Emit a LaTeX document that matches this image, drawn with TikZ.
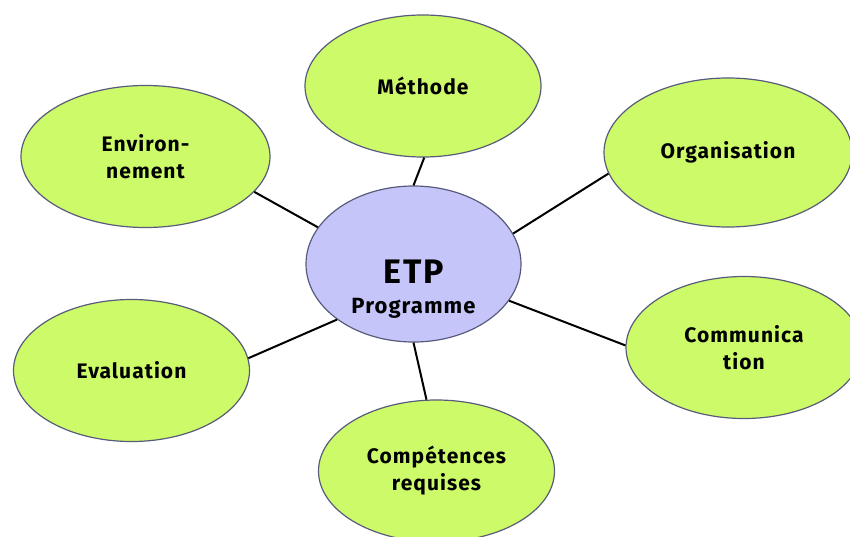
\documentclass[tikz,border=0pt]{standalone}
\usepackage{fontspec}
\setmainfont{Fira Sans}
\newfontfamily\tagfont{Fira Sans}[LetterSpace=5]
\usetikzlibrary{shapes.geometric}
\definecolor{leaf}{RGB}{205,250,105}
\definecolor{lilac}{RGB}{197,197,250}
\definecolor{rim}{RGB}{88,92,122}
\tikzset{
  every picture/.style={
    line width=1.5pt
  },
  topic/.style={ellipse, draw=rim, line width=1.2pt, fill=leaf,
    minimum width=236pt, minimum height=142pt, inner sep=0pt,
    align=center, font=\tagfont\bfseries\fontsize{21}{27}\selectfont},
  core/.style={ellipse, draw=rim, line width=1.2pt, fill=lilac,
    minimum width=215pt, minimum height=156pt, inner sep=0pt},
  link/.style={draw=black, line width=2pt}
}
\begin{document}
\begin{tikzpicture}[x=1pt, y=-1pt]
  \useasboundingbox (0,0) rectangle (850,536);
  \node[core,
    label={[yshift=-8pt, font=\tagfont\bfseries\fontsize{34}{34}\selectfont]center:ETP},
    label={[yshift=-44pt, font=\tagfont\bfseries\fontsize{22}{22}\selectfont]center:Programme}]
    (etp) at (413.5,264) {};

  \node[topic] (meth) at (423,86) {Méthode};
  \node[topic, minimum width=249pt] (envi) at (145.5,156.5) {Environ-\\nement};
  \node[topic, minimum width=248pt, minimum height=149pt] (orga) at (728,152.5) {Organisation};
  \node[topic] (eval) at (131.5,370.5) {Evaluation};
  \node[topic] (comm) at (744,347.5) {Communica\\tion};
  \node[topic] (comp) at (436.5,471) {Compétences\\requises};

  % spokes
  \draw[link] (etp.90) -- (meth.-89);
  \draw[link] (etp.159) -- (envi.-18);
  \draw[link] (etp.17) -- (orga.190);
  \draw[link] (etp.-21) -- (comm.179);
  \draw[link] (etp.216) -- (eval.6);
  \draw[link] (etp.-90) -- (comp.98);
\end{tikzpicture}
\end{document}
